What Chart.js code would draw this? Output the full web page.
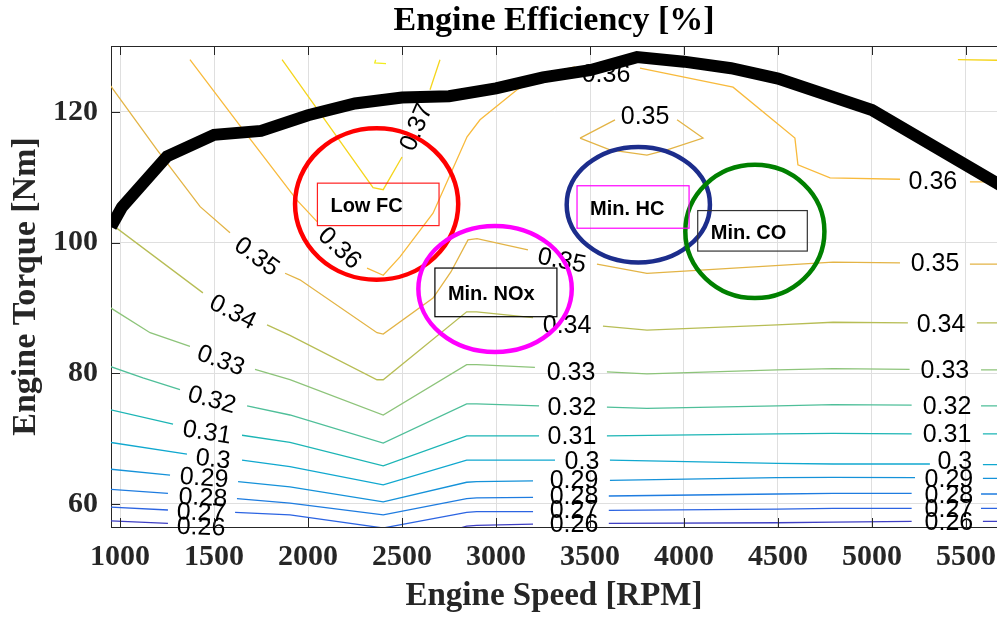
<!DOCTYPE html>
<html>
<head>
<meta charset="utf-8">
<script src="https://cdn.jsdelivr.net/npm/chart.js@4.4.1/dist/chart.umd.min.js"></script>
<style>
  html, body { margin: 0; padding: 0; background: #fff; }
</style>
</head>
<body>
<canvas id="myChart" width="997" height="621"></canvas>
<script>
// axis ticks
var xTicks = [1000, 1500, 2000, 2500, 3000, 3500, 4000, 4500, 5000, 5500];
var yTicks = [60, 80, 100, 120];

// max torque curve
var maxTqRpm = [952, 1010, 1250, 1500, 1750, 2000, 2250, 2500, 2750, 3000, 3250, 3500, 3750, 4000, 4250, 4500, 5000, 5700];
var maxTq    = [102.4, 105.4, 113.2, 116.5, 117.1, 119.5, 121.3, 122.2, 122.4, 123.6, 125.3, 126.4, 128.4, 127.7, 126.7, 125.1, 120.3, 108.5];

// efficiency contours, [rpm, Nm], null = gap for the label
var lvl026 = [[950,57.4],[1255,57.0],null,[1620,56.3],[1904,55.6],[2400,52.5],[2844,56.6],[2897,56.7],[3197,56.9],null,[3600,57.0],[4495,57.1],[4793,57.2],[5211,57.3],null,[5590,57.3],[5700,57.3]];
var lvl027 = [[950,59.5],[1255,59.05],null,[1612,58.7],[1904,58.3],[2400,56.3],[2844,58.7],[2897,58.8],[3197,58.8],null,[3600,59.0],[4495,59.2],[4793,59.3],[5211,59.3],null,[5580,59.3],[5700,59.3]];
var lvl028 = [[950,62.2],[1255,61.6],null,[1622,60.8],[1904,60.1],[2400,58.3],[2844,60.8],[2897,60.9],[3197,61.0],null,[3600,61.2],[4495,61.5],[4793,61.6],[5211,61.6],null,[5580,61.5],[5700,61.5]];
var lvl029 = [[950,65.3],[1266,64.4],null,[1628,63.4],[1904,62.6],[2400,60.3],[2844,63.3],[2897,63.4],[3197,63.5],null,[3606,63.6],[4495,64.0],[4793,64.05],[5229,64.0],null,[5590,63.9],[5700,63.9]];
var lvl030 = [[950,69.4],[1356,67.6],null,[1649,66.7],[1904,65.7],[2400,62.9],[2844,66.7],[2897,66.7],[3314,66.7],null,[3606,66.7],[4495,66.2],[4793,66.1],[5308,66.1],null,[5590,66.0],[5700,66.0]];
var lvl031 = [[950,74.4],[1282,72.2],null,[1649,70.5],[1904,69.4],[2400,65.8],[2844,70.4],[2897,70.4],[3229,70.4],null,[3590,70.4],[4495,70.7],[4793,70.8],[5211,70.7],null,[5590,70.7],[5700,70.7]];
var lvl032 = [[950,81.0],[1122,79.3],[1319,77.5],null,[1676,75.0],[1904,73.6],[2400,69.3],[2844,75.3],[2897,75.3],[3229,75.0],null,[3590,74.8],[3803,74.6],[4495,75.0],[4793,75.2],[5211,75.1],null,[5580,75.0],[5700,75.0]];
var lvl033 = [[950,90.0],[1160,86.2],[1372,84.1],null,[1718,80.6],[1904,79.0],[2400,73.6],[2844,81.3],[2897,81.3],[3207,80.9],null,[3590,80.2],[3803,79.9],[4495,80.5],[4793,80.7],[5200,80.6],null,[5580,80.5],[5700,80.5]];
var lvl034 = [[950,102.9],[1441,92.3],null,[1782,87.4],[1904,85.8],[2367,79.0],[2400,79.0],[2844,89.4],[2897,89.4],[3197,88.5],null,[3569,87.2],[3803,86.6],[4495,87.4],[4793,87.8],[5191,87.7],null,[5558,87.7],[5700,87.7]];
var lvl035 = [[950,124.0],[1197,114.2],[1426,105.5],[1585,101.5],null,[1878,95.3],[1957,94.3],[2367,86.2],[2400,86.0],[2665,91.5],[2760,95.5],[2851,100.4],[2899,100.6],[3170,98.9],null,[3537,96.7],[3803,95.3],[4793,97.0],[5149,96.9],null,[5521,96.7],[5700,96.7]];
var lvl035b = [[3447,116.0],[3633,118.8],null,[3963,118.8],[4101,116.0],[3910,114.2],[3803,113.4],[3606,114.2],[3447,116.0]];
var lvl036 = [[1372,128.0],[1654,117.3],[1941,106.5],[2048,103.2],null,[2314,96.1],[2400,95.0],[2489,97.8],[2665,104.5],[2846,116.2],[2915,118.8],[3112,123.4],[3287,126.0],[3420,126.9],null,[3766,126.7],[4261,123.8],[4590,116.0],[4606,111.9],[4777,109.9],[5149,109.7],null,[5521,109.3],[5700,109.3]];
var lvl037 = [[1862,128.0],[2346,108.4],[2400,108.1],[2500,113.1],null,[2649,123.4],[2702,128.0],null,[5457,128.0],[5700,127.9]];
var lvl038 = [[2360,128.0],[2355,127.5],[2415,127.4]];

var contours = [
  { pts: lvl026, color: '#3f3fc3' },
  { pts: lvl027, color: '#2c64e2' },
  { pts: lvl028, color: '#1e7ce0' },
  { pts: lvl029, color: '#1592d9' },
  { pts: lvl030, color: '#10a8cf' },
  { pts: lvl031, color: '#1cb5b5' },
  { pts: lvl032, color: '#4fbf99' },
  { pts: lvl033, color: '#8dc47a' },
  { pts: lvl034, color: '#b7bd55' },
  { pts: lvl035, color: '#e3b446' },
  { pts: lvl035b, color: '#e3b446' },
  { pts: lvl036, color: '#f8ba3c' },
  { pts: lvl037, color: '#f5d51c' },
  { pts: lvl038, color: '#f2ec1e' }
];

// contour labels: text, rpm, Nm, angle (deg)
var contourLabels = [
  ['0.35', 1729, 97.9, 36], ['0.36', 2170, 99.2, 43], ['0.37', 2574, 117.7, -67],
  ['0.34', 1601, 89.4, 27], ['0.33', 1537, 82.0, 20], ['0.32', 1489, 76.0, 15],
  ['0.31', 1463, 71.0, 9], ['0.3', 1495, 66.9, 6], ['0.29', 1447, 64.0, 4],
  ['0.28', 1441, 61.0, 3], ['0.27', 1431, 58.7, 2], ['0.26', 1431, 56.5, 2],
  ['0.35', 3351, 97.3, 11], ['0.34', 3378, 87.4, 0], ['0.33', 3399, 80.2, 0],
  ['0.32', 3404, 74.8, 0], ['0.31', 3404, 70.4, 0], ['0.3', 3457, 66.5, 0],
  ['0.29', 3415, 63.6, 0], ['0.28', 3415, 61.2, 0], ['0.27', 3415, 59.1, 0],
  ['0.26', 3415, 56.9, 0], ['0.36', 3585, 125.8, 0], ['0.35', 3793, 119.4, 0],
  ['0.36', 5324, 109.4, 0], ['0.35', 5335, 96.8, 0], ['0.34', 5367, 87.5, 0],
  ['0.33', 5388, 80.4, 0], ['0.32', 5399, 75.0, 0], ['0.31', 5399, 70.6, 0],
  ['0.3', 5441, 66.6, 0], ['0.29', 5409, 63.8, 0], ['0.28', 5409, 61.4, 0],
  ['0.27', 5409, 59.2, 0], ['0.26', 5409, 57.2, 0]
];

// marked regions: ellipse centre/radii and text box in data units
var regions = [
  { name: 'Low FC',   rpm: 2365, tq: 105.9, dRpm: 434, dTq: 11.6, ring: '#ff0000', box: [2050, 2697, 109.1, 102.6], edge: '#ff2020' },
  { name: 'Min. NOx', rpm: 2995, tq: 92.9,  dRpm: 408, dTq: 9.65, ring: '#ff00ff', box: [2675, 3324, 96.1, 88.65], edge: '#000000' },
  { name: 'Min. HC',  rpm: 3757, tq: 105.8, dRpm: 381, dTq: 8.85, ring: '#1c2d8c', box: [3431, 4027, 108.7, 102.2], edge: '#ff00ff' },
  { name: 'Min. CO',  rpm: 4377, tq: 101.7, dRpm: 370, dTq: 10.2, ring: '#008000', box: [4073, 4656, 104.9, 98.7], edge: '#333333' }
];

function toPts(arr) {
  return arr.map(function (p, i) {
    return p ? { x: p[0], y: p[1] } : { x: arr[i - 1][0], y: null };
  });
}

var datasets = [{
  data: maxTqRpm.map(function (r, i) { return { x: r, y: maxTq[i] }; }),
  borderColor: '#000',
  borderWidth: 12,
  showLine: true,
  pointRadius: 0
}];
contours.forEach(function (c) {
  datasets.push({
    data: toPts(c.pts),
    borderColor: c.color,
    borderWidth: 1.3,
    showLine: true,
    pointRadius: 0
  });
});

function drawContourLabels(chart) {
  var ctx = chart.ctx, xs = chart.scales.x, ys = chart.scales.y;
  ctx.save();
  ctx.font = '25px "Liberation Sans", Arial, sans-serif';
  ctx.fillStyle = '#000';
  ctx.textAlign = 'center';
  ctx.textBaseline = 'middle';
  contourLabels.forEach(function (l) {
    ctx.save();
    ctx.translate(xs.getPixelForValue(l[1]), ys.getPixelForValue(l[2]));
    ctx.rotate(l[3] * Math.PI / 180);
    ctx.fillText(l[0], 0, 1);
    ctx.restore();
  });
  ctx.restore();
}

var extras = {
  id: 'extras',
  beforeDatasetDraw: function (chart, args) {
    // max torque line is dataset 0 and drawn last; put labels under it
    if (args.index === 0) drawContourLabels(chart);
  },
  afterDatasetsDraw: function (chart) {
    var ctx = chart.ctx, xs = chart.scales.x, ys = chart.scales.y, a = chart.chartArea;
    ctx.save();
    regions.forEach(function (r) {
      var cx = xs.getPixelForValue(r.rpm), cy = ys.getPixelForValue(r.tq);
      var rx = Math.abs(xs.getPixelForValue(r.rpm + r.dRpm) - cx);
      var ry = Math.abs(ys.getPixelForValue(r.tq + r.dTq) - cy);
      ctx.beginPath();
      ctx.ellipse(cx, cy, rx, ry, 0, 0, 2 * Math.PI);
      ctx.lineWidth = 4.5;
      ctx.strokeStyle = r.ring;
      ctx.stroke();
    });
    regions.forEach(function (r) {
      var x0 = xs.getPixelForValue(r.box[0]), x1 = xs.getPixelForValue(r.box[1]);
      var y0 = ys.getPixelForValue(r.box[2]), y1 = ys.getPixelForValue(r.box[3]);
      ctx.lineWidth = 1.2;
      ctx.strokeStyle = r.edge;
      ctx.strokeRect(x0, y0, x1 - x0, y1 - y0);
      ctx.fillStyle = '#000';
      ctx.font = 'bold 20px "Liberation Sans", Arial, sans-serif';
      ctx.textAlign = 'left';
      ctx.textBaseline = 'middle';
      ctx.fillText(r.name, x0 + 13, (y0 + y1) / 2 + 2.5);
    });
    // box top edge and inward tick marks
    ctx.strokeStyle = '#262626';
    ctx.lineWidth = 1;
    ctx.beginPath();
    ctx.moveTo(a.left, a.top + 0.5);
    ctx.lineTo(a.right, a.top + 0.5);
    xTicks.forEach(function (v) {
      var px = Math.round(xs.getPixelForValue(v)) + 0.5;
      ctx.moveTo(px, a.bottom); ctx.lineTo(px, a.bottom - 9);
      ctx.moveTo(px, a.top); ctx.lineTo(px, a.top + 9);
    });
    yTicks.forEach(function (v) {
      var py = Math.round(ys.getPixelForValue(v)) + 0.5;
      ctx.moveTo(a.left, py); ctx.lineTo(a.left + 9, py);
    });
    ctx.stroke();
    ctx.restore();
  }
};

var serif = "'Liberation Serif', 'Times New Roman', serif";

new Chart("myChart", {
  type: "scatter",
  data: { datasets: datasets },
  plugins: [extras],
  options: {
    responsive: false,
    animation: false,
    layout: { padding: 0 },
    plugins: {
      legend: { display: false },
      tooltip: { enabled: false },
      title: {
        display: true,
        text: 'Engine Efficiency [%]',
        fullSize: false,
        color: '#000',
        font: { family: serif, size: 34, weight: 'bold', lineHeight: 1 },
        padding: { top: 4, bottom: 8 }
      }
    },
    scales: {
      x: {
        type: 'linear',
        bounds: 'data',
        min: 952,
        max: 5665,
        afterBuildTicks: function (s) { s.ticks = xTicks.map(function (v) { return { value: v }; }); },
        afterFit: function (s) { s.height = 94; s.paddingLeft = 0; s.paddingRight = 0; },
        grid: { color: '#dfdfdf', drawTicks: false },
        border: { color: '#262626', width: 1 },
        ticks: { color: '#262626', autoSkip: false, maxRotation: 0, padding: 12,
                 callback: function (v) { return String(v); },
                 font: { family: serif, size: 30, weight: 'bold' } },
        title: { display: true, text: 'Engine Speed [RPM]', color: '#262626',
                 font: { family: serif, size: 33, weight: 'bold' }, padding: { top: 0, bottom: 5 } }
      },
      y: {
        type: 'linear',
        bounds: 'data',
        min: 56.45,
        max: 130.1,
        afterBuildTicks: function (s) { s.ticks = yTicks.map(function (v) { return { value: v }; }); },
        afterFit: function (s) { s.width = 111; },
        grid: { color: '#dfdfdf', drawTicks: false },
        border: { color: '#262626', width: 1 },
        ticks: { color: '#262626', padding: 13,
                 callback: function (v) { return String(v); },
                 font: { family: serif, size: 30, weight: 'bold' } },
        title: { display: true, text: 'Engine Torque [Nm]', color: '#262626',
                 font: { family: serif, size: 34, weight: 'bold' }, padding: { top: 6, bottom: 0 } }
      }
    }
  }
});
</script>
</body>
</html>
